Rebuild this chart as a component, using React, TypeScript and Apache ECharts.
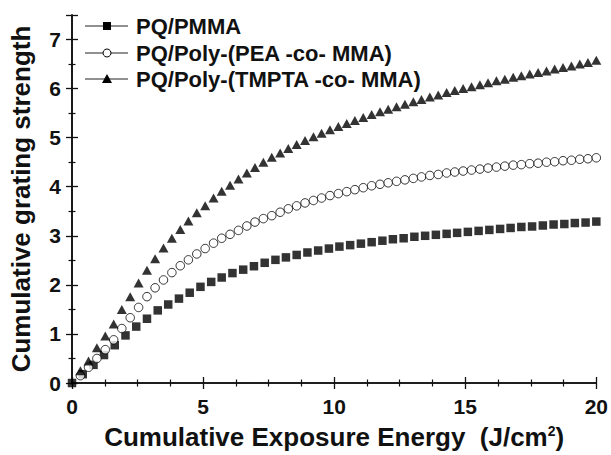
import React, { useEffect, useRef } from "react";
import * as echarts from "echarts";

// Exposure energy (J/cm^2) for PQ/PMMA samples
const pmmaX = [0, 0.41, 0.82, 1.22, 1.63, 2.04, 2.45, 2.86, 3.27, 3.67, 4.08, 4.49, 4.90, 5.31, 5.71, 6.12, 6.53, 6.94, 7.35, 7.76, 8.16, 8.57, 8.98, 9.39, 9.80, 10.20, 10.61, 11.02, 11.43, 11.84, 12.24, 12.65, 13.06, 13.47, 13.88, 14.29, 14.69, 15.10, 15.51, 15.92, 16.33, 16.73, 17.14, 17.55, 17.96, 18.37, 18.78, 19.18, 19.59, 20.00];
const pmmaY = [0, 0.18, 0.37, 0.57, 0.77, 0.97, 1.15, 1.31, 1.48, 1.6, 1.72, 1.84, 1.96, 2.06, 2.15, 2.24, 2.31, 2.38, 2.45, 2.51, 2.56, 2.61, 2.66, 2.70, 2.74, 2.78, 2.81, 2.84, 2.87, 2.90, 2.93, 2.95, 2.98, 3.00, 3.02, 3.04, 3.06, 3.08, 3.10, 3.12, 3.14, 3.16, 3.18, 3.19, 3.21, 3.23, 3.24, 3.26, 3.27, 3.29];

// Exposure energy for the two copolymer samples (same sampling)
const copolyX = [0.32, 0.63, 0.95, 1.27, 1.59, 1.90, 2.22, 2.54, 2.86, 3.17, 3.49, 3.81, 4.13, 4.44, 4.76, 5.08, 5.40, 5.71, 6.03, 6.35, 6.67, 6.98, 7.30, 7.62, 7.94, 8.25, 8.57, 8.89, 9.21, 9.52, 9.84, 10.16, 10.48, 10.79, 11.11, 11.43, 11.75, 12.06, 12.38, 12.70, 13.02, 13.33, 13.65, 13.97, 14.29, 14.60, 14.92, 15.24, 15.56, 15.87, 16.19, 16.51, 16.83, 17.14, 17.46, 17.78, 18.10, 18.41, 18.73, 19.05, 19.37, 19.68, 20.00];
const peaY = [0.15, 0.32, 0.5, 0.68, 0.88, 1.11, 1.33, 1.54, 1.76, 1.94, 2.1, 2.25, 2.39, 2.51, 2.63, 2.74, 2.85, 2.95, 3.03, 3.11, 3.2, 3.28, 3.35, 3.41, 3.48, 3.55, 3.61, 3.67, 3.72, 3.77, 3.82, 3.86, 3.90, 3.94, 3.98, 4.02, 4.05, 4.08, 4.11, 4.14, 4.17, 4.20, 4.23, 4.25, 4.28, 4.30, 4.32, 4.34, 4.36, 4.38, 4.40, 4.42, 4.44, 4.45, 4.47, 4.48, 4.50, 4.51, 4.53, 4.54, 4.56, 4.57, 4.59];
const tmptaY = [0.25, 0.45, 0.72, 0.96, 1.2, 1.5, 1.76, 2.04, 2.3, 2.53, 2.75, 2.95, 3.13, 3.3, 3.47, 3.61, 3.77, 3.91, 4.03, 4.16, 4.28, 4.39, 4.50, 4.60, 4.69, 4.78, 4.86, 4.94, 5.02, 5.09, 5.16, 5.23, 5.29, 5.35, 5.41, 5.47, 5.53, 5.58, 5.63, 5.68, 5.73, 5.78, 5.83, 5.87, 5.92, 5.96, 6.00, 6.04, 6.08, 6.12, 6.16, 6.19, 6.23, 6.26, 6.30, 6.33, 6.36, 6.40, 6.43, 6.46, 6.50, 6.53, 6.58];

const seriesNames = ["PQ/PMMA", "PQ/Poly-(PEA -co- MMA)", "PQ/Poly-(TMPTA -co- MMA)"];
const xTitle = "Cumulative Exposure Energy  (J/cm{sup|2})";
const yTitle = "Cumulative grating strength";

const FONT = "'Liberation Sans', Arial, Helvetica, sans-serif";
const INK = "#111";

export default function App() {
  const ref = useRef<HTMLDivElement>(null);
  useEffect(() => {
    if (!ref.current) return;
    const chart = echarts.init(ref.current, undefined, { renderer: "svg" });
    const pair = (xs: number[], ys: number[]) => xs.map((x, i) => [x, ys[i]]);
    const axisLine = { show: true, lineStyle: { color: INK, width: 1.6 } };
    const tick = { show: true, inside: false, length: 6, lineStyle: { color: INK, width: 1.3 } };
    const minor = (n: number) => ({ show: true, splitNumber: n, length: 3.5, lineStyle: { color: INK, width: 1.2 } });
    const labelStyle = { color: INK, fontFamily: FONT, fontWeight: "bold" as const, fontSize: 21 };

    const legendX = 85;
    const legendY = [26, 53, 79];
    const legendGraphics: any[] = [];
    const symbols = ["rect", "circle", "triangle"];
    seriesNames.forEach((name, i) => {
      const cy = legendY[i];
      legendGraphics.push({ type: "line", shape: { x1: legendX, y1: cy, x2: legendX + 43, y2: cy }, style: { stroke: "#222", lineWidth: 1.2 } });
      const mx = legendX + 22;
      if (symbols[i] === "rect") {
        legendGraphics.push({ type: "rect", shape: { x: mx - 4, y: cy - 4, width: 8, height: 8 }, style: { fill: "#000" } });
      } else if (symbols[i] === "circle") {
        legendGraphics.push({ type: "circle", shape: { cx: mx, cy, r: 4 }, style: { fill: "#fff", stroke: "#000", lineWidth: 1 } });
      } else {
        legendGraphics.push({ type: "polygon", shape: { points: [[mx, cy - 5], [mx - 5, cy + 4], [mx + 5, cy + 4]] }, style: { fill: "#000" } });
      }
      legendGraphics.push({
        type: "text",
        x: legendX + 51,
        y: cy,
        style: { text: name, fill: INK, font: `bold 22px ${FONT}`, textVerticalAlign: "middle" },
      });
    });

    chart.setOption({
      animation: false,
      backgroundColor: "#fff",
      grid: { left: 70, right: 13, top: 15, bottom: 68, containLabel: false },
      xAxis: [
        {
          type: "value", min: 0, max: 20, interval: 5, position: "bottom",
          axisLine, axisTick: tick, minorTick: minor(4),
          splitLine: { show: false },
          axisLabel: { ...labelStyle, margin: 13 },
          name: xTitle, nameLocation: "middle", nameGap: 41,
          nameTextStyle: {
            color: INK, fontFamily: FONT, fontWeight: "bold", fontSize: 26,
            rich: { sup: { fontSize: 14, fontWeight: "bold", fontFamily: FONT, color: INK, verticalAlign: "bottom", padding: [0, 0, 12, 0] } },
          },
        },
        {
          type: "value", min: 0, max: 20, interval: 5, position: "top",
          axisLine, axisTick: tick, minorTick: minor(4),
          splitLine: { show: false }, axisLabel: { show: false },
        },
      ],
      yAxis: [
        {
          type: "value", min: 0, max: 7.5, interval: 1, position: "left",
          axisLine, axisTick: tick, minorTick: minor(2),
          splitLine: { show: false },
          axisLabel: { ...labelStyle, margin: 11, showMaxLabel: false, formatter: (v: number) => (Number.isInteger(v) ? String(v) : "") },
          name: yTitle, nameLocation: "middle", nameGap: 38, nameRotate: 90,
          nameTextStyle: { color: INK, fontFamily: FONT, fontWeight: "bold", fontSize: 26 },
        },
        {
          type: "value", min: 0, max: 7.5, interval: 1, position: "right",
          axisLine, axisTick: tick, minorTick: minor(2),
          splitLine: { show: false }, axisLabel: { show: false },
        },
      ],
      series: [
        {
          name: seriesNames[0], type: "scatter", xAxisIndex: 0, yAxisIndex: 0,
          symbol: "rect", symbolSize: 8.5, itemStyle: { color: "#000" },
          data: pair(pmmaX, pmmaY),
        },
        {
          name: seriesNames[1], type: "scatter", xAxisIndex: 0, yAxisIndex: 0,
          symbol: "circle", symbolSize: 8.5, itemStyle: { color: "#fff", borderColor: "#000", borderWidth: 1 },
          data: pair(copolyX, peaY),
        },
        {
          name: seriesNames[2], type: "scatter", xAxisIndex: 0, yAxisIndex: 0,
          symbol: "triangle", symbolSize: [10, 9], itemStyle: { color: "#000" },
          data: pair(copolyX, tmptaY),
        },
      ],
      graphic: legendGraphics,
    });
    return () => chart.dispose();
  }, []);
  return <div ref={ref} style={{ position: "fixed", left: 0, top: 0, width: 611, height: 455 }} />;
}
